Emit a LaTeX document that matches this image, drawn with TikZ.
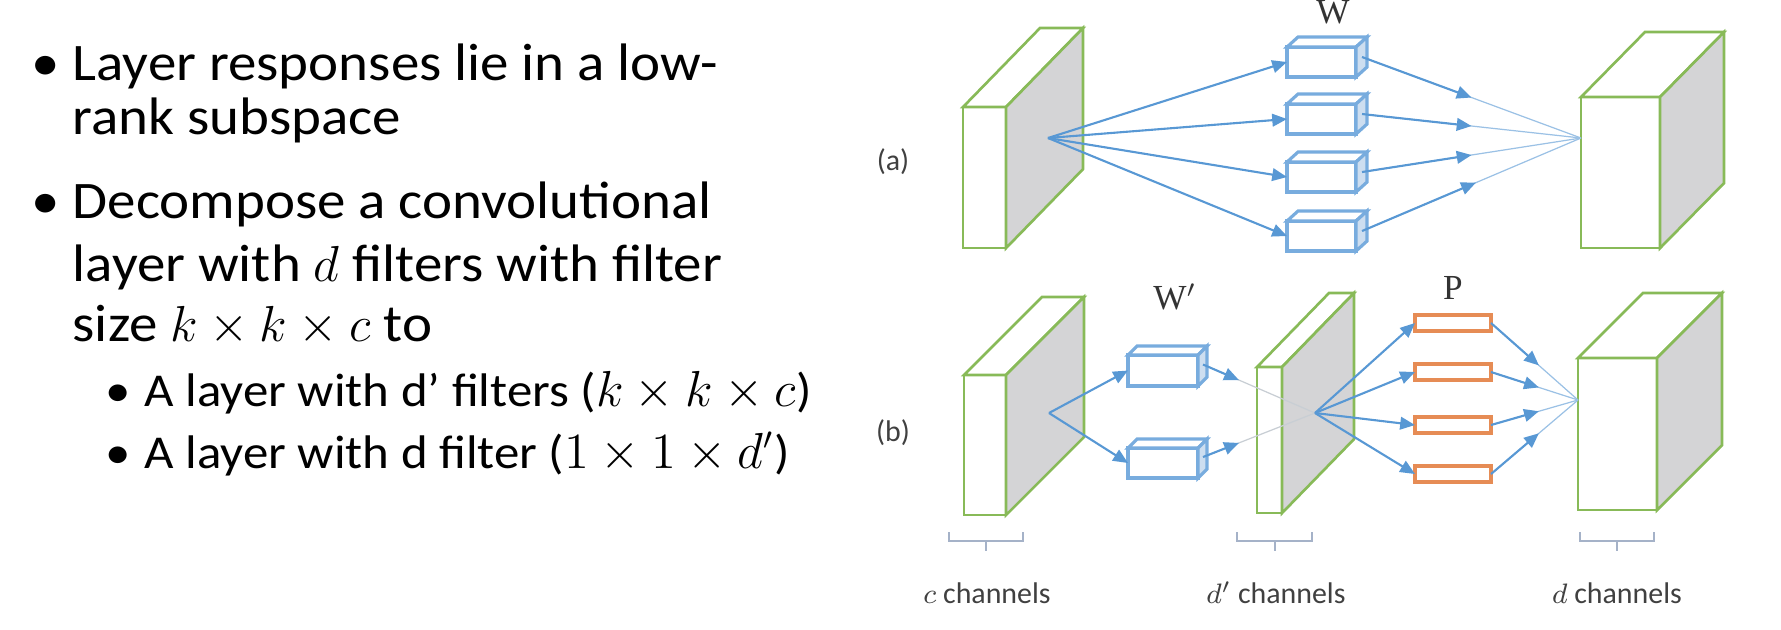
\documentclass[tikz,border=0pt]{standalone}
\usepackage{fontspec}
\setmainfont{Carlito}
\newfontfamily\slidefont[FakeStretch=1.08]{Carlito}
\newfontfamily\serifont{Liberation Serif}
\usepackage{tikz}
\usetikzlibrary{arrows.meta,
  calc,
  positioning
}

\definecolor{slabgreen}{RGB}{136,186,88}
\definecolor{sidegray}{RGB}{212,212,214}
\definecolor{connblue}{RGB}{88,152,212}
\definecolor{wblue}{RGB}{120,172,222}
\definecolor{wside}{RGB}{205,222,240}
\definecolor{porange}{RGB}{230,140,85}
\definecolor{bracegray}{RGB}{165,178,200}

% top face and side face behind a front face node
\newcommand{\extrude}[4]{%
  \filldraw[#3, fill=white] (#1.north west) -- ++#2 -- ($(#1.north east)+#2$) -- (#1.north east) -- cycle;
  \filldraw[#3, fill=#4] (#1.north east) -- ++#2 -- ($(#1.south east)+#2$) -- (#1.south east) -- cycle;
}

\tikzset{
  slabline/.style={draw=slabgreen, line width=0.75pt},
  slab/.style={slabline, fill=white, inner sep=0pt, outer sep=0pt, anchor=north west},
  wline/.style={draw=wblue, line width=0.9pt},
  wbox/.style={wline, fill=white, inner sep=0pt, outer sep=0pt, anchor=north west,
    minimum width=0.69cm, minimum height=0.30cm},
  pbox/.style={draw=porange, line width=0.9pt, fill=white, inner sep=0pt, outer sep=0pt,
    minimum width=0.76cm, minimum height=0.16cm},
  conn/.style={draw=connblue, line width=0.6pt, -{Triangle[length=4.2pt,width=3.6pt]}},
  fade/.style={draw=connblue!60, line width=0.35pt},
  ghost/.style={draw=connblue!25!gray!40, line width=0.35pt},
  brace/.style={draw=bracegray, line width=0.4pt},
  body/.style={font=\slidefont\fontsize{15}{17}\selectfont, anchor=base west, inner sep=0pt},
  sub/.style={font=\slidefont\fontsize{13.4}{15}\selectfont, anchor=base west, inner sep=0pt},
  lbl/.style={font=\fontsize{8.5}{10}\selectfont, text=black!75, inner sep=0pt},
  lbase/.style={lbl, anchor=base},
  mlbl/.style={font=\serifont\fontsize{10}{12}\selectfont, text=black!80, inner sep=0pt}
}

\begin{document}
\begin{tikzpicture}[x=0.01cm, y=-0.01cm]
  \useasboundingbox (0,0) rectangle (1781,629);

  % bullets
  \node[body, anchor=base] (bu1) at (46,80) {•};
  \node[body] (t1) at (72,80) {Layer responses lie in a low-};
  \node[body] (t2) at (72,134) {rank subspace};
  \node[body, anchor=base] (bu2) at (46,218) {•};
  \node[body] (t3) at (72,218) {Decompose a convolutional};
  \node[body] (t4) at (72,281) {layer with $d$ filters with filter};
  \node[body] (t5) at (72,341) {size $k\times k\times c$ to};
  \node[sub, anchor=base] (bu3) at (118,406) {•};
  \node[sub] (t6) at (144,406) {A layer with d’ filters ($k\times k\times c$)};
  \node[sub, anchor=base] (bu4) at (118,468) {•};
  \node[sub] (t7) at (144,468) {A layer with d filter ($1\times 1\times d'$)};

  % (a) full layer
  \node[lbl] (la) at (893,162) {(a)};
  \node[slab, minimum width=0.43cm, minimum height=1.41cm] (inA) at (963,107) {};
  \extrude{inA}{(77,-79)}{slabline}{sidegray}
  \coordinate (srcA) at (1048,138);

  \node[mlbl] (wlab) at (1333,12) {W};
  \node[wbox] (wA1) at (1287,47) {};
  \node[wbox] (wA2) at (1287,104) {};
  \node[wbox] (wA3) at (1287,162) {};
  \node[wbox] (wA4) at (1287,221) {};
  \extrude{wA1}{(11,-10)}{wline}{wside}
  \extrude{wA2}{(11,-10)}{wline}{wside}
  \extrude{wA3}{(11,-10)}{wline}{wside}
  \extrude{wA4}{(11,-10)}{wline}{wside}

  \draw[conn] (srcA) -- (wA1.west);
  \draw[conn] (srcA) -- (wA2.west);
  \draw[conn] (srcA) -- (wA3.west);
  \draw[conn] (srcA) -- (wA4.west);

  \node[slab, minimum width=0.79cm, minimum height=1.51cm] (outA) at (1581,97) {};
  \extrude{outA}{(64,-65)}{slabline}{sidegray}
  \coordinate (dstA) at (1581,138);

  \coordinate (oA1) at ($(wA1.east)+(6,-5)$);
  \coordinate (oA2) at ($(wA2.east)+(6,-5)$);
  \coordinate (oA3) at ($(wA3.east)+(6,-5)$);
  \coordinate (oA4) at ($(wA4.east)+(6,-5)$);
  \draw[fade] (oA1) -- (dstA);
  \draw[fade] (oA2) -- (dstA);
  \draw[fade] (oA3) -- (dstA);
  \draw[fade] (oA4) -- (dstA);
  \draw[conn] (oA1) -- ($(oA1)!0.5!(dstA)$);
  \draw[conn] (oA2) -- ($(oA2)!0.5!(dstA)$);
  \draw[conn] (oA3) -- ($(oA3)!0.5!(dstA)$);
  \draw[conn] (oA4) -- ($(oA4)!0.52!(dstA)$);

  % (b) decomposed layer
  \node[lbl] (lb) at (893,433) {(b)};
  \node[slab, minimum width=0.42cm, minimum height=1.40cm] (inB) at (964,375) {};
  \extrude{inB}{(78,-78)}{slabline}{sidegray}
  \coordinate (srcB) at (1049,413);

  \node[mlbl] (wplab) at (1175,297) {W$'$};
  \node[wbox, minimum width=0.70cm, minimum height=0.31cm] (wB1) at (1128,355) {};
  \node[wbox, minimum width=0.70cm, minimum height=0.30cm] (wB2) at (1128,448) {};
  \extrude{wB1}{(9,-9)}{wline}{wside}
  \extrude{wB2}{(9,-9)}{wline}{wside}
  \draw[conn] (srcB) -- (wB1.west);
  \draw[conn] (srcB) -- (wB2.west);

  \node[slab, minimum width=0.25cm, minimum height=1.46cm] (midB) at (1257,367) {};
  \extrude{midB}{(72,-74)}{slabline}{sidegray}
  \coordinate (pivB) at (1315,413);

  \coordinate (oB1) at ($(wB1.east)+(5,-6)$);
  \coordinate (oB2) at ($(wB2.east)+(5,-6)$);
  \draw[ghost] (oB1) -- (pivB);
  \draw[ghost] (oB2) -- (pivB);
  \draw[conn] (oB1) -- ($(oB1)!0.32!(pivB)$);
  \draw[conn] (oB2) -- ($(oB2)!0.32!(pivB)$);

  \node[mlbl] (plab) at (1453,288) {P};
  \node[pbox] (pB1) at (1453,323) {};
  \node[pbox] (pB2) at (1453,372) {};
  \node[pbox] (pB3) at (1453,425) {};
  \node[pbox] (pB4) at (1453,474) {};
  \draw[conn] (pivB) -- (pB1.west);
  \draw[conn] (pivB) -- (pB2.west);
  \draw[conn] (pivB) -- (pB3.west);
  \draw[conn] (pivB) -- (pB4.west);

  \node[slab, minimum width=0.79cm, minimum height=1.52cm] (outB) at (1578,358) {};
  \extrude{outB}{(65,-65)}{slabline}{sidegray}
  \coordinate (dstB) at (1578,400);

  \draw[fade] (pB1.east) -- (dstB);
  \draw[fade] (pB2.east) -- (dstB);
  \draw[fade] (pB3.east) -- (dstB);
  \draw[fade] (pB4.east) -- (dstB);
  \draw[conn] (pB1.east) -- ($(pB1.east)!0.55!(dstB)$);
  \draw[conn] (pB2.east) -- ($(pB2.east)!0.55!(dstB)$);
  \draw[conn] (pB3.east) -- ($(pB3.east)!0.55!(dstB)$);
  \draw[conn] (pB4.east) -- ($(pB4.east)!0.55!(dstB)$);

  % channel braces
  \draw[brace] (949,532) -- (949,541) -- (1023,541) -- (1023,532);
  \draw[brace] (986,541) -- (986,551);
  \draw[brace] (1237,532) -- (1237,541) -- (1312,541) -- (1312,532);
  \draw[brace] (1275,541) -- (1275,551);
  \draw[brace] (1580,532) -- (1580,541) -- (1654,541) -- (1654,532);
  \draw[brace] (1617,541) -- (1617,551);

  \node[lbase] (cch) at (987,603) {$c$ channels};
  \node[lbase] (dpch) at (1276,603) {$d'$ channels};
  \node[lbase] (dch) at (1617,603) {$d$ channels};
\end{tikzpicture}
\end{document}
